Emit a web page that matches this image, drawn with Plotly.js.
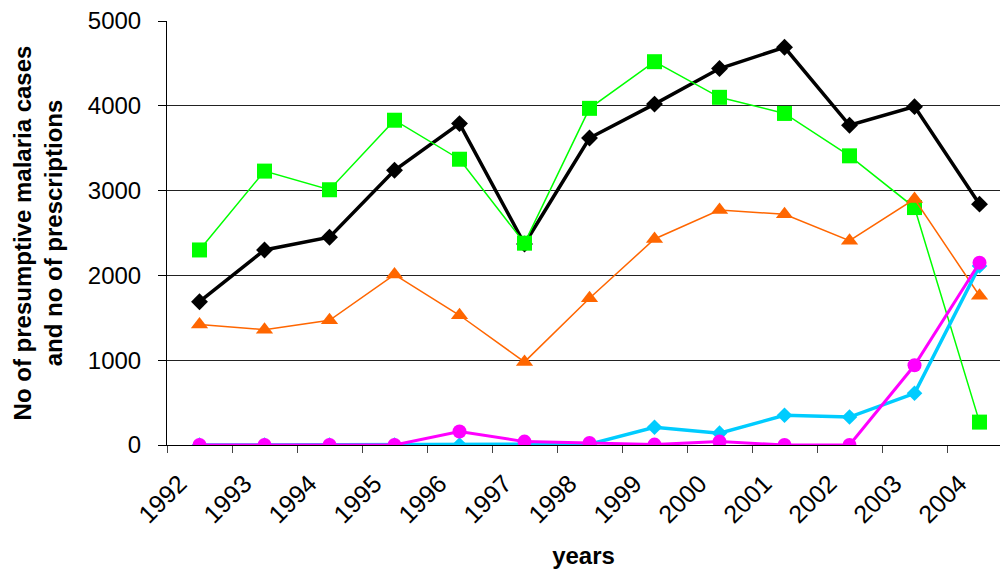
<!DOCTYPE html>
<html>
<head>
<meta charset="utf-8">
<script src="https://cdn.plot.ly/plotly-3.0.1.min.js"></script>
<style>html,body{margin:0;padding:0;background:#fff;}#chart{width:1000px;height:571px;}</style>
</head>
<body>
<div id="chart"></div>
<script>
const years = ['1992','1993','1994','1995','1996','1997','1998','1999','2000','2001','2002','2003','2004'];
const blackSeries   = [1690, 2300, 2450, 3240, 3790, 2370, 3620, 4020, 4440, 4690, 3770, 3990, 2840];
const greenSeries   = [2300, 3230, 3010, 3830, 3370, 2380, 3970, 4520, 4100, 3910, 3410, 2800, 270];
const orangeSeries  = [1420, 1360, 1470, 2010, 1530, 980, 1730, 2430, 2770, 2720, 2410, 2900, 1760];
const cyanSeries    = [0, 0, 0, 0, 0, 5, 10, 210, 140, 350, 330, 610, 2110];
const magentaSeries = [0, 0, 0, 0, 160, 40, 25, 5, 40, 0, 0, 940, 2150];

const font = 'Liberation Sans, Arial, Helvetica, sans-serif';

const traces = [
  {x: years, y: blackSeries, mode: 'lines+markers', line: {color: '#000000', width: 3.5},
   marker: {symbol: 'diamond', size: 13, color: '#000000'}},
  {x: years, y: greenSeries, mode: 'lines+markers', line: {color: '#00FF00', width: 1.5},
   marker: {symbol: 'square', size: 15, color: '#00FF00'}},
  {x: years, y: orangeSeries, mode: 'lines+markers', line: {color: '#FF6600', width: 1.5},
   marker: {symbol: 'triangle-up', size: 15, color: '#FF6600'}},
  {x: years, y: cyanSeries, mode: 'lines+markers', line: {color: '#00CCFF', width: 3.5},
   marker: {symbol: 'diamond', size: 12, color: '#00CCFF'}},
  {x: years, y: magentaSeries, mode: 'lines+markers', line: {color: '#FF00FF', width: 3},
   marker: {symbol: 'circle', size: 14, color: '#FF00FF'}}
];

const layout = {
  width: 1000, height: 571,
  margin: {l: 167, r: 0, t: 21, b: 126},
  paper_bgcolor: '#ffffff', plot_bgcolor: '#ffffff',
  showlegend: false,
  font: {family: font, color: '#000000', size: 24},
  xaxis: {
    type: 'category',
    range: [-0.5, 12.315],
    tickson: 'boundaries',
    ticks: 'outside', ticklen: 7, tickcolor: '#444444', tickwidth: 1,
    showgrid: false, zeroline: false,
    showline: true, linecolor: '#000000', linewidth: 1,
    tickangle: -45,
    ticklabelstandoff: 13,
    ticklabelshift: -20,
    tickfont: {family: font, size: 25, color: '#000000'},
    title: {text: '<b>years</b>', font: {family: font, size: 24, color: '#000000'}, standoff: 19}
  },
  yaxis: {
    range: [0, 5000],
    tickvals: [0, 1000, 2000, 3000, 4000, 5000],
    ticks: 'outside', ticklen: 8, tickcolor: '#000000', tickwidth: 1,
    showgrid: true, gridcolor: '#222222', gridwidth: 1,
    zeroline: false,
    showline: true, linecolor: '#000000', linewidth: 1,
    tickfont: {family: font, size: 24, color: '#000000'},
    ticklabelstandoff: 12,
    title: {text: '<b>No of presumptive malaria cases<br>and no of prescriptions</b>',
            font: {family: font, size: 24, color: '#000000'}, standoff: 18}
  }
};

Plotly.newPlot('chart', traces, layout, {displayModeBar: false, staticPlot: true});
</script>
</body>
</html>
